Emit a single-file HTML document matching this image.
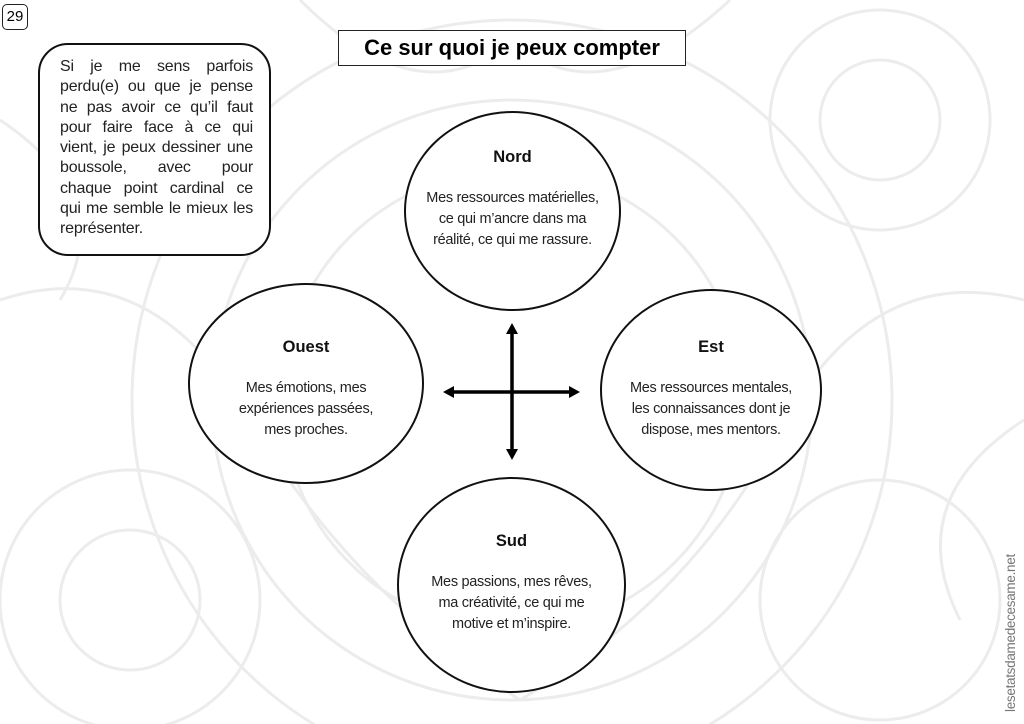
<!DOCTYPE html>
<html><head><meta charset="utf-8"><style>
html,body{margin:0;width:1024px;height:724px;overflow:hidden}
body{background:#fff;font-family:"Liberation Sans","DejaVu Sans",sans-serif;position:relative}
.bg{position:absolute;left:0;top:0}
.num{position:absolute;left:2px;top:4px;width:24px;height:24px;border:1.5px solid #222;border-radius:5px;background:#fff;font-size:15px;text-align:center;line-height:24px}
.title{position:absolute;left:338px;top:30px;width:346px;height:34px;border:1.5px solid #222;background:#fff;font-size:22px;font-weight:bold;text-align:center;line-height:34px}
.box{position:absolute;left:38px;top:43px;width:233px;height:213px;border:2px solid #111;border-radius:30px;background:#fff;box-sizing:border-box;padding:12px 16px 0 20px;font-size:16px;line-height:20.3px;text-align:justify;color:#222;letter-spacing:-0.2px}
.e{position:absolute;border:2px solid #111;border-radius:50%;background:#fff;box-sizing:border-box;text-align:center;color:#222;font-size:14.5px;line-height:21px;letter-spacing:-0.3px}
.e b{display:block;font-size:16.5px;margin-bottom:20px;color:#111;letter-spacing:0}
.side{position:absolute;left:1003px;top:712px;transform:rotate(-90deg);transform-origin:0 0;font-size:13.5px;color:#777;white-space:nowrap;letter-spacing:-0.3px}
</style></head><body>
<svg class="bg" width="1024" height="724" fill="none" stroke="#ececec" stroke-width="3">
<circle cx="512" cy="400" r="300"/><circle cx="512" cy="400" r="230"/><circle cx="512" cy="400" r="380"/>
<circle cx="880" cy="120" r="110"/><circle cx="880" cy="120" r="60"/><circle cx="880" cy="600" r="120"/><circle cx="130" cy="600" r="130"/>
<circle cx="130" cy="600" r="70"/><path d="M0 300 Q150 250 250 420 T520 700"/><path d="M1024 300 Q870 260 780 430 T520 700"/>
<path d="M300 0 Q420 120 512 40 Q600 120 730 0"/><path d="M0 120 Q120 200 60 300"/><path d="M1024 420 Q900 500 960 620"/>
</svg>
<div class="num">29</div>
<div class="title">Ce sur quoi je peux compter</div>
<div class="box">Si je me sens parfois perdu(e) ou que je pense ne pas avoir ce qu’il faut pour faire face à ce qui vient, je peux dessiner une boussole, avec pour chaque point cardinal ce qui me semble le mieux les représenter.</div>
<div class="e" style="left:404px;top:111px;width:217px;height:200px;padding-top:34px"><b>Nord</b>Mes ressources matérielles,<br>ce qui m’ancre dans ma<br>réalité, ce qui me rassure.</div>
<div class="e" style="left:188px;top:283px;width:236px;height:201px;padding-top:52px"><b>Ouest</b>Mes émotions, mes<br>expériences passées,<br>mes proches.</div>
<div class="e" style="left:600px;top:289px;width:222px;height:202px;padding-top:46px"><b>Est</b>Mes ressources mentales,<br>les connaissances dont je<br>dispose, mes mentors.</div>
<div class="e" style="left:397px;top:477px;width:229px;height:216px;padding-top:52px"><b>Sud</b>Mes passions, mes rêves,<br>ma créativité, ce qui me<br>motive et m’inspire.</div>
<svg class="bg" width="1024" height="724">
<g stroke="#000" stroke-width="3.5"><line x1="512" y1="332" x2="512" y2="452"/><line x1="452" y1="392" x2="572" y2="392"/></g>
<g fill="#000"><polygon points="512,323 506,334 518,334"/><polygon points="512,460 506,449 518,449"/><polygon points="443,392 454,386 454,398"/><polygon points="580,392 569,386 569,398"/></g>
</svg>
<div class="side">lesetatsdamedecesame.net</div>
</body></html>
